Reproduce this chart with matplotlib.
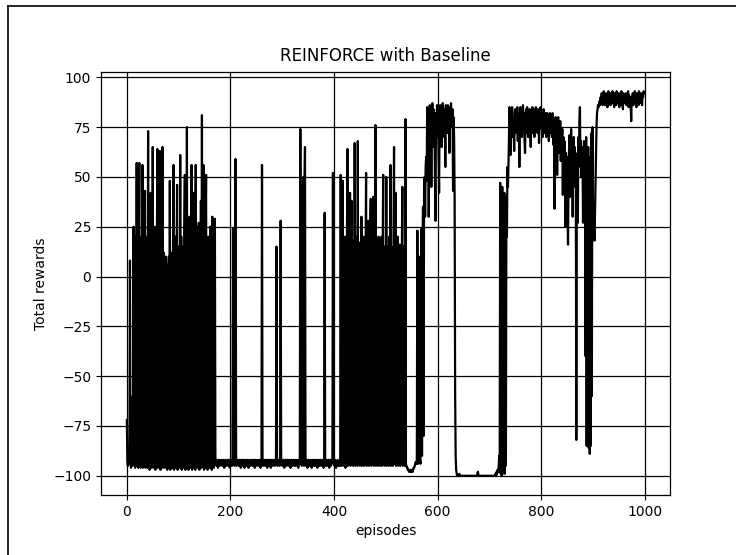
import numpy as np
import matplotlib
matplotlib.use("Agg")
import matplotlib.pyplot as plt
from matplotlib.lines import Line2D

# --- data (total rewards per episode) ---
seg_a = [  # episodes 0-171
    -72, -93, -95, -92, -94, -90, 8, -94, -96, -93,
    -95, -60, -94, 25, -95, 10, -96, 20, -94, 57,
    -95, 15, -96, 22, 57, -95, 10, -96, 20, -94,
    56, -96, 18, -95, 5, 43, -96, 15, -95, 20,
    -96, 73, -95, 10, -97, 20, 42, -96, 12, -95,
    65, -96, 15, -95, 25, -97, 5, -95, 18, 64,
    -96, 10, -95, 20, 63, -97, 8, -95, 15, 65,
    -96, 12, -94, 0, -96, 10, 6, -95, -97, 5,
    -95, 10, -96, 48, -97, 0, -95, 12, -96, 5,
    56, -97, 10, -95, 20, -96, 8, 46, -97, 15,
    -95, 10, -96, 61, -95, 20, -97, 5, -95, 15,
    -96, 25, 51, -97, 10, -95, 75, -96, 20, -97,
    15, 30, -96, 20, -95, 56, -97, 10, -95, 42,
    -96, 20, -97, 56, -95, 15, -96, 25, -95, 27,
    -97, 10, -95, 38, -96, 81, -95, 20, 56, -97,
    15, -96, 25, 51, -95, 10, -97, 20, -95, 14,
    -96, 25, -95, 10, -97, 30, -95, 20, -96, 15,
    29, -94,
]
seg_b = [  # episodes 172-399
    -93, -95, -92, -94, -96, -93, -92, -95, -94, -93,
    -92, -94, -95, -93, -92, -94, -96, -94, -92, -93,
    -95, -94, -92, -93, -95, -92, -94, -96, -93, -92,
    -94, -95, -93, 24, -94, 20, -95, -92, 59, -93,
    -95, -94, -92, -93, -95, -94, -92, -93, -96, -94,
    -92, -93, -95, -92, -94, -96, -93, -92, -94, -95,
    -93, -92, -94, -96, -94, -92, -93, -95, -94, -92,
    -93, -95, -94, -92, -93, -96, -92, -94, -95, -93,
    -92, -94, -95, -93, -92, -94, -96, -93, -92, 56,
    -93, -95, -94, -92, -93, -95, -94, -92, -94, -96,
    -93, -92, -95, -94, -92, -93, -96, -94, -92, -93,
    -95, -94, -92, -93, -95, -94, -92, 15, -93, -95,
    -94, -92, -93, -95, -94, 28, -93, -92, -95, -94,
    -92, -93, -96, -94, -92, -93, -95, -94, -92, -93,
    -95, -93, -92, -94, -96, -93, -92, -94, -95, -93,
    -92, -94, -95, -93, -92, -95, -94, -92, -93, -96,
    -94, -92, -93, 74, -94, 45, -95, 40, -93, 50,
    -95, 42, 65, -93, -95, -92, -94, -96, -93, -92,
    -94, -95, -93, -92, -94, -96, -93, -92, -94, -95,
    -93, -92, -95, -94, -92, -93, -96, -94, -92, -93,
    -95, -94, -92, -93, -95, -94, -92, -93, -96, -94,
    32, -93, -95, -92, -94, -95, -93, -92, -94, -96,
    -93, -92, -95, -94, -92, -93, 52, -94,
]
seg_c = [  # episodes 400-579
    -93, -95, -92, -94, -96, -93, -94, -92, -95, -94,
    -93, -95, -94, 51, -95, 10, -94, 48, -95, 15,
    -94, 20, -96, 5, -95, 15, 64, -95, 10, -94,
    15, 42, -95, 20, 38, -94, 10, -95, 18, -94,
    67, -95, 15, -94, 20, -95, 68, -94, 10, 17,
    -95, 15, -94, 30, -95, 10, -94, 20, -95, 15,
    -94, 10, 52, -95, 15, -94, 28, -95, 10, -94,
    20, 39, -95, 10, -94, 15, 40, -95, 10, -94,
    76, -95, 15, -94, 5, -95, 20, 10, -94, -95,
    15, -94, 20, -95, 10, 51, -94, 15, -95, 10,
    -94, 50, -95, 15, -94, 10, -95, 20, -94, 56,
    -95, 15, -94, 10, -95, 20, 65, -94, 15, 42,
    -95, 10, -94, 20, -95, 5, -94, 16, -95, 15,
    -94, 10, 45, -95, 15, -94, 10, -95, 79, -94,
    -95, -96, -96, -97, -97, -98, -98, -98, -97, -98,
    -98, -97, -98, -97, -96, -96, -95, -94, -93, -94,
    -93, 23, -94, -92, 10, -93, -92, -94, 5, 24,
    -90, 15, 35, -80, 45, 50, 30, 55, 60, 48,
]
seg_d = [  # episodes 580-639
    85, 70, 80, 30, 75, 86, 60, 82, 45, 78,
    87, 65, 84, 75, 80, 50, 28, 82, 70, 86,
    76, 84, 60, 42, 80, 86, 72, 85, 65, 80,
    87, 75, 84, 70, 82, 55, 86, 78, 84, 72,
    86, 80, 85, 62, 84, 78, 87, 80, 75, 84,
    43, 80, 70, 40, -60, -90, -97, -99, -100, -100,
]
seg_e = [  # episodes 640-717
    -100, -100, -99, -100, -100, -100, -100, -100, -100, -100,
    -100, -100, -100, -100, -100, -100, -100, -100, -100, -100,
    -100, -100, -100, -100, -100, -100, -100, -100, -100, -100,
    -100, -100, -100, -100, -100, -100, -100, -99, -98, -100,
    -100, -100, -100, -100, -100, -100, -100, -100, -100, -100,
    -100, -100, -100, -100, -100, -100, -100, -100, -100, -100,
    -100, -100, -100, -100, -100, -100, -100, -100, -100, -100,
    -100, -100, -99, -100, -98, -99, -97, -98,
]
seg_f = [  # episodes 718-739
    -96, -90, -98, 47, -99, 40, -100, 45, -99, 35,
    -98, 42, -99, 38, -95, 40, 20, 55, 45, 56,
    70, 85,
]
seg_g = [  # episodes 740-912
    78, 61, 82, 72, 85, 70, 80, 75, 63, 82,
    84, 72, 80, 76, 85, 68, 82, 78, 55, 80,
    85, 72, 84, 70, 80, 86, 74, 82, 68, 62,
    80, 84, 72, 85, 78, 70, 83, 76, 84, 74,
    65, 82, 78, 85, 72, 80, 84, 70, 82, 78,
    85, 74, 80, 72, 84, 78, 67, 82, 76, 85,
    80, 74, 82, 70, 78, 84, 72, 80, 76, 82,
    70, 78, 82, 74, 80, 68, 76, 82, 72, 80,
    78, 70, 82, 74, 66, 76, 34, 72, 80, 68,
    78, 51, 74, 80, 62, 76, 70, 78, 58, 72,
    66, 74, 41, 70, 55, 68, 50, 25, 62, 45,
    60, 35, 16, 50, 65, 71, 40, 60, 74, 55,
    68, 30, 62, 70, 50, 65, 45, 60, -82, 55,
    62, 27, 70, 60, 78, 85, 55, 68, 50, 65,
    60, 27, 55, 68, 45, 60, -40, 70, -85, 50,
    -80, 65, -86, 45, -89, 60, -85, 72, -60, 75,
    40, 20, 35, 18, 30, 45, 60, 75, 82, 84,
    86, 85, 87,
]
seg_h = [  # episodes 913-999
    88, 86, 90, 87, 92, 89, 86, 91, 93, 88,
    90, 86, 92, 88, 91, 85, 89, 93, 87, 90,
    92, 86, 89, 91, 87, 93, 88, 90, 85, 92,
    89, 91, 86, 93, 88, 90, 87, 92, 85, 89,
    91, 88, 93, 86, 90, 84, 92, 88, 91, 87,
    89, 92, 86, 90, 88, 93, 85, 91, 87, 90,
    86, 78, 90, 88, 92, 86, 91, 89, 93, 87,
    90, 85, 92, 88, 91, 86, 93, 89, 87, 92,
    88, 91, 86, 92, 90, 93, 92,
]

rewards = seg_a + seg_b + seg_c + seg_d + seg_e + seg_f + seg_g + seg_h
episodes = np.arange(len(rewards))

title = "REINFORCE with Baseline"
xlabel = "episodes"
ylabel = "Total rewards"
yticks = [-100, -75, -50, -25, 0, 25, 50, 75, 100]
xticks = [0, 200, 400, 600, 800, 1000]

# --- figure ---
W, H = 736, 555
fig = plt.figure(figsize=(W / 100, H / 100), dpi=100)
fig.patch.set_facecolor("white")

L, R, T, B = 101, 670, 72, 495
ax = fig.add_axes([L / W, 1 - B / H, (R - L) / W, (B - T) / H])

ax.plot(episodes, rewards, color="black", linewidth=1.6)
ax.set_yticks(yticks)
ax.set_xticks(xticks)
ax.grid(True, color="black", linewidth=0.9)
ax.set_axisbelow(False)
for s in ax.spines.values():
    s.set_color("black")
    s.set_linewidth(0.9)
ax.tick_params(labelsize=10, direction="out", length=3.5, color="black")
ax.set_title(title, fontsize=12, pad=8)
ax.set_xlabel(xlabel, fontsize=10)
ax.set_ylabel(ylabel, fontsize=10)

# outer frame visible in the screenshot (left and top edges)
fig.add_artist(Line2D([7.5 / W, 7.5 / W], [0, 1 - 5.5 / H], transform=fig.transFigure,
                      color="black", linewidth=1.2))
fig.add_artist(Line2D([7.5 / W, 1], [1 - 5.5 / H, 1 - 5.5 / H], transform=fig.transFigure,
                      color="black", linewidth=1.2))

fig.savefig("out.png", dpi=100)
